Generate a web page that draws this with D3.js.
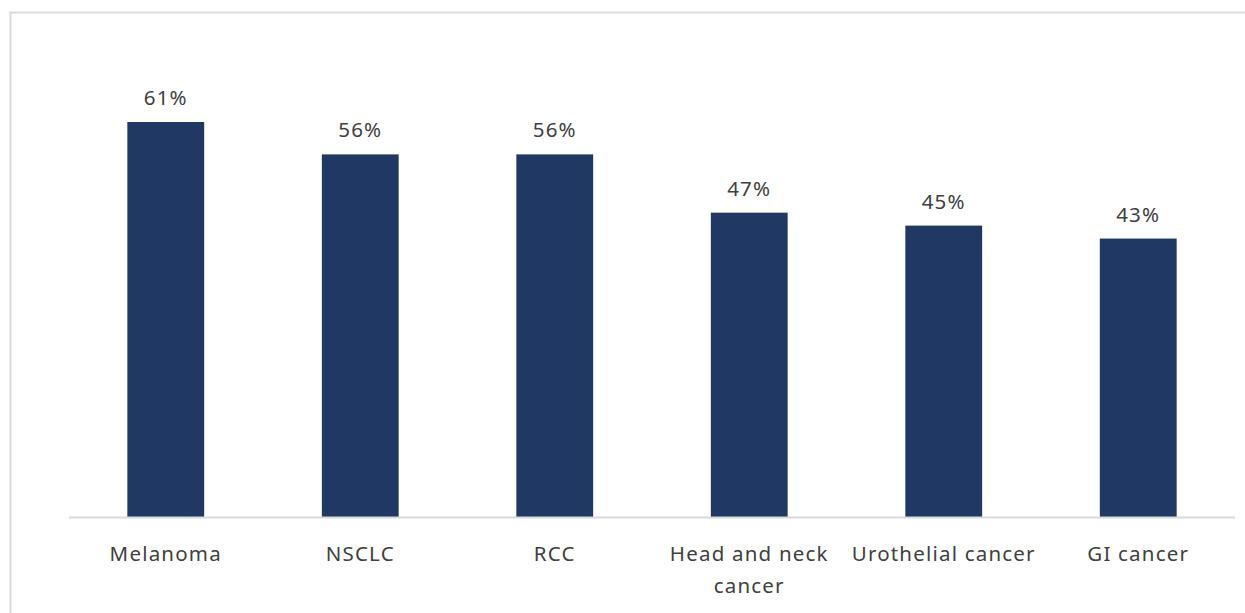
<!DOCTYPE html>
<html>
<head>
<meta charset="utf-8">
<script src="https://cdn.jsdelivr.net/npm/d3@7"></script>
<style>
  body { margin: 0; background: #fff; }
  svg text { font-family: "Noto Sans", "Open Sans", sans-serif; fill: #404040; letter-spacing: 1.2px; }
</style>
</head>
<body>
<svg id="chart"></svg>
<script>
var categories = ['Melanoma', 'NSCLC', 'RCC', 'Head and neck cancer', 'Urothelial cancer', 'GI cancer'];
var values = [61, 56, 56, 47, 45, 43];
var valueLabels = ['61%', '56%', '56%', '47%', '45%', '43%'];

var width = 1245;
var height = 613;

var svg = d3.select('#chart')
    .attr('width', width)
    .attr('height', height);

// outer chart border
svg.append('rect')
    .attr('x', 10.5)
    .attr('y', 12.5)
    .attr('width', 1260)
    .attr('height', 640)
    .attr('fill', 'none')
    .attr('stroke', '#d9d9d9')
    .attr('stroke-width', 2);

var x = d3.scaleBand()
    .domain(categories)
    .range([69, 1235])
    .paddingInner(0.605)
    .paddingOuter(0.3);

var y = d3.scaleLinear()
    .domain([0, 61])
    .range([517, 122]);

svg.selectAll('rect.bar')
    .data(values)
    .enter()
    .append('rect')
    .attr('class', 'bar')
    .attr('x', (d, i) => x(categories[i]))
    .attr('y', d => y(d))
    .attr('width', x.bandwidth())
    .attr('height', d => y(0) - y(d))
    .attr('fill', '#203864');

svg.selectAll('text.val')
    .data(values)
    .enter()
    .append('text')
    .attr('class', 'val')
    .attr('x', (d, i) => x(categories[i]) + x.bandwidth() / 2)
    .attr('y', d => y(d) - 17)
    .attr('text-anchor', 'middle')
    .style('font-size', '20.5px')
    .text((d, i) => valueLabels[i]);

// baseline
svg.append('line')
    .attr('x1', 69)
    .attr('x2', 1235)
    .attr('y1', 517.5)
    .attr('y2', 517.5)
    .attr('stroke', '#d9d9d9')
    .attr('stroke-width', 2);

// category labels, wrapped like the original
var wrapped = {'Head and neck cancer': ['Head and neck', 'cancer']};
categories.forEach(function(c) {
    var lines = wrapped[c] || [c];
    var t = svg.append('text')
        .attr('x', x(c) + x.bandwidth() / 2)
        .attr('y', 561)
        .attr('text-anchor', 'middle')
        .style('font-size', '20.5px');
    lines.forEach(function(l, i) {
        t.append('tspan')
            .attr('x', x(c) + x.bandwidth() / 2)
            .attr('dy', i === 0 ? 0 : 32)
            .text(l);
    });
});
</script>
</body>
</html>
